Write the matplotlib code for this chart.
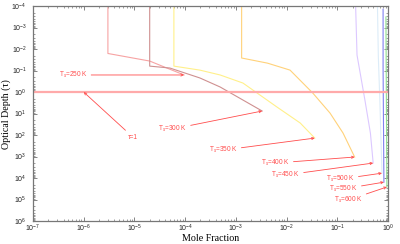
import numpy as np
import matplotlib
matplotlib.use('Agg')
import matplotlib.pyplot as plt

# courbes : fraction molaire vs profondeur optique, pour chaque T_s
temps = [250, 300, 350, 400, 450, 500, 550, 600]

x_250 = [3.0e-6, 3.0e-6, 2.0e-5, 9.5e-5]
tau_250 = [1e-4, 0.016, 0.036, 0.16]

x_300 = [2.0e-5, 2.0e-5, 5.0e-5, 1.95e-4, 4.9e-4, 3.3e-3]
tau_300 = [1e-4, 0.062, 0.076, 0.22, 0.58, 7.6]

x_350 = [6.0e-5, 6.0e-5, 1.95e-4, 4.9e-4, 1.38e-3, 6.5e-3, 1.86e-2, 3.6e-2]
tau_350 = [1e-4, 0.062, 0.095, 0.16, 0.38, 5.0, 27.5, 138]

x_400 = [1.3e-3, 1.3e-3, 4.2e-3, 1.17e-2, 3.3e-2, 7.2e-2, 0.13, 0.22]
tau_400 = [1e-4, 0.026, 0.045, 0.095, 1.12, 9.5, 81, 1050]

x_450 = [0.23, 0.245, 0.35, 0.45, 0.51]
tau_450 = [1e-4, 0.019, 2.3, 81, 2000]

x_500 = [0.62, 0.645, 0.69, 0.76]
tau_500 = [1e-4, 0.023, 2.3, 5900]

x_550 = [0.80, 0.80, 0.83]
tau_550 = [1.4e-4, 0.076, 15500]

x_600 = [0.91, 0.95]
tau_600 = [3.2e-4, 26000]

xs = [x_250, x_300, x_350, x_400, x_450, x_500, x_550, x_600]
taus = [tau_250, tau_300, tau_350, tau_400, tau_450, tau_500, tau_550, tau_600]
couleurs = ['#f7a3a3', '#cf9090', '#fff08a', '#ffd27a', '#dcc8ff', '#dcecf8', '#8080f0', '#90e090']

# position des etiquettes (bord droit du texte)
label_x = [1.2e-6, 1.1e-4, 1.1e-3, 1.17e-2, 1.86e-2, 0.224, 0.257, 0.32]
label_tau = [0.16, 52, 500, 2000, 7200, 11200, 32000, 105000]

plt.rcParams['font.family'] = ['Liberation Sans', 'DejaVu Sans']
plt.rcParams['mathtext.fontset'] = 'custom'
plt.rcParams['mathtext.rm'] = 'Liberation Sans'
plt.rcParams['mathtext.it'] = 'Liberation Sans:italic'

fig = plt.figure(figsize=(4.0, 2.44), dpi=100)
ax = fig.add_axes([0.0825, 0.094, 0.8875, 0.881])

for x, t, c in zip(xs, taus, couleurs):
    ax.plot(x, t, color=c, lw=0.8)

ax.axhline(1.0, color='#ffaaaa', lw=1.6)

rouge = '#ff4d4d'
for T, x, t, lx, lt in zip(temps, xs, taus, label_x, label_tau):
    ax.annotate(f'T$_s$={T} K', xy=(x[-1], t[-1]), xytext=(lx, lt),
                ha='right', va='center', fontsize=4.7, color=rouge,
                arrowprops=dict(arrowstyle='->', color=rouge, lw=0.6,
                                shrinkA=0.5, shrinkB=0, mutation_scale=4))

ax.annotate('τ=1', xy=(1e-6, 1.0), xytext=(9.3e-6, 123),
            ha='center', va='center', fontsize=4.7, color=rouge,
            arrowprops=dict(arrowstyle='->', color=rouge, lw=0.6,
                            shrinkA=0.5, shrinkB=0, mutation_scale=4))

ax.set_xscale('log')
ax.set_yscale('log')
ax.set_xlim(1e-7, 1)
ax.set_ylim(1e6, 1e-4)
ax.set_xticks([10.0 ** k for k in range(-7, 1)])
ax.set_yticks([10.0 ** k for k in range(-4, 7)])

ax.tick_params(which='both', direction='in', top=True, right=True,
               labelsize=5, colors='#555555', labelcolor='#222222')
ax.tick_params(axis='x', pad=1.5)
ax.tick_params(axis='y', pad=4.5)
ax.tick_params(which='major', length=3, width=0.5)
ax.tick_params(which='minor', length=1.5, width=0.4)
for s in ax.spines.values():
    s.set_color('#777777')
    s.set_linewidth(0.9)

ax.set_xlabel('Mole Fraction', family='Liberation Serif', fontsize=7.2, labelpad=0)
ax.set_ylabel('Optical Depth (τ)', family='Liberation Serif', fontsize=7.2, labelpad=0.5)

fig.savefig('out.png', dpi=100)
